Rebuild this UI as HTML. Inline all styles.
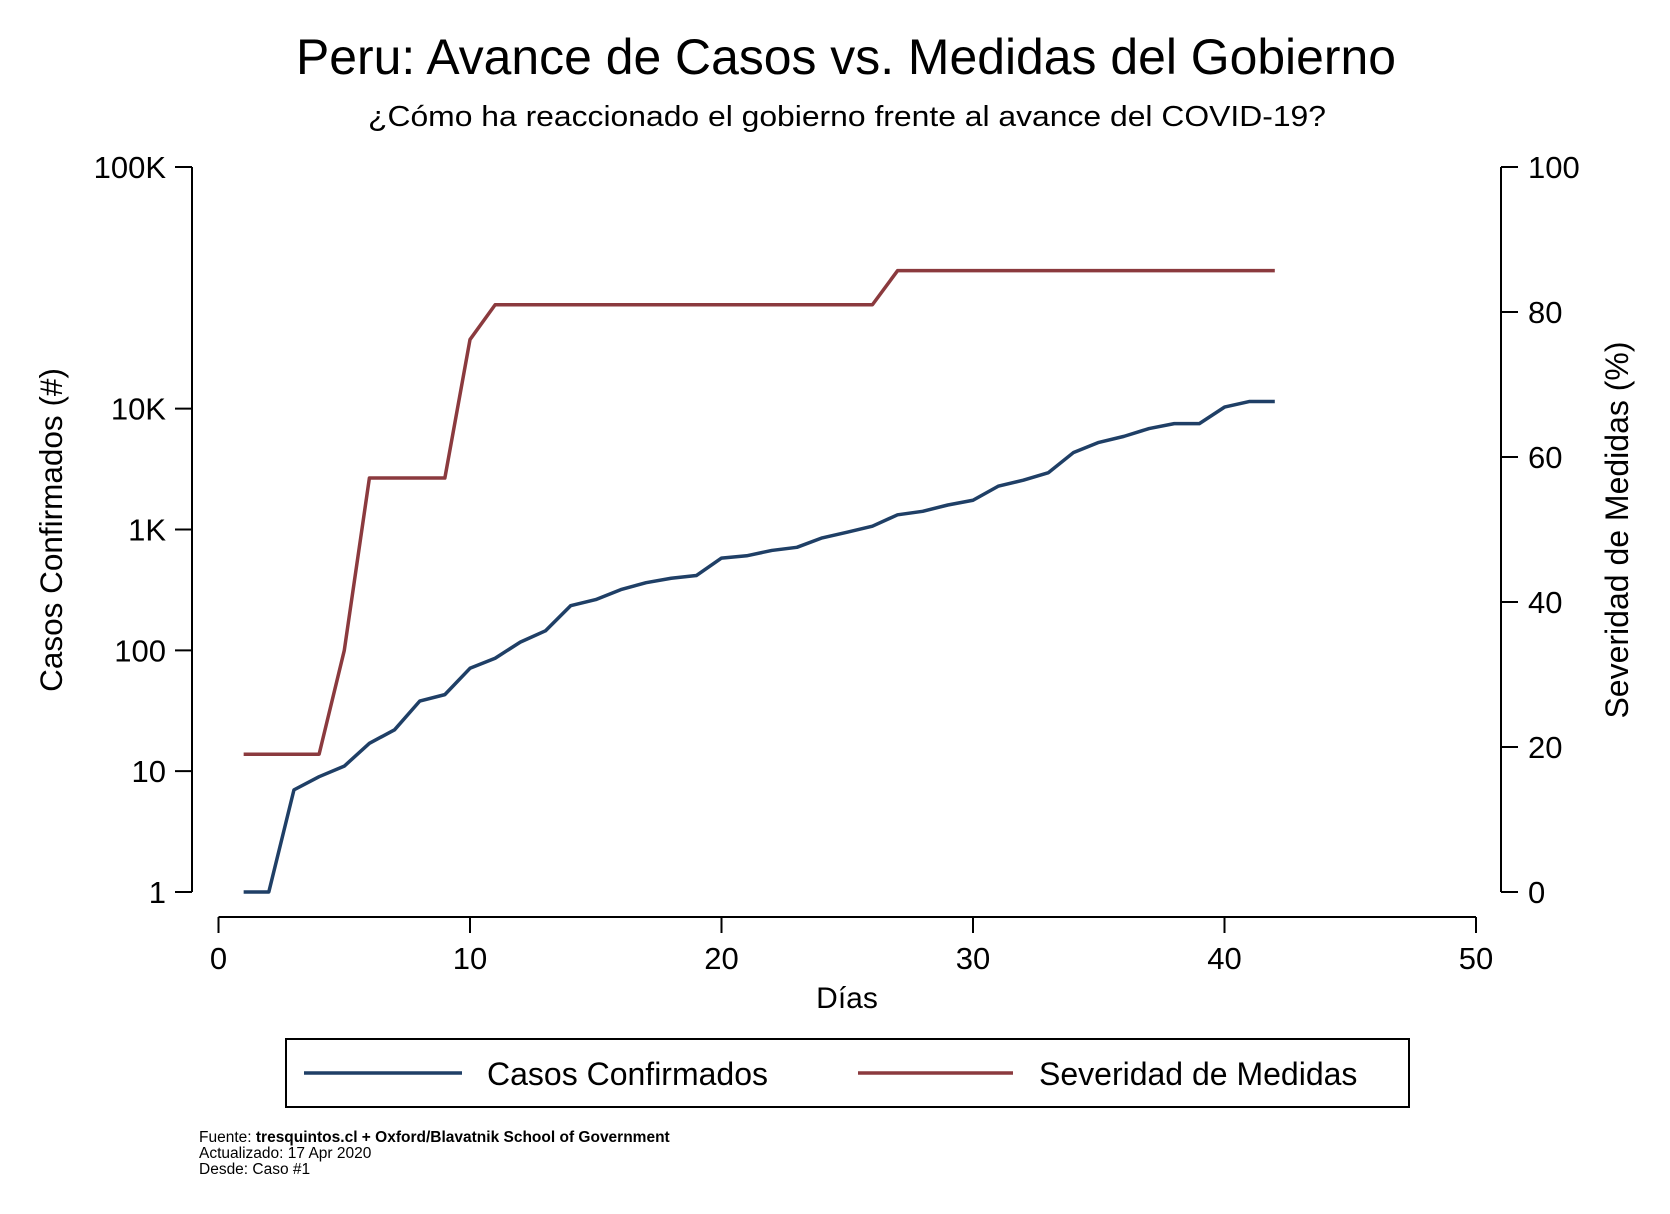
<!DOCTYPE html>
<html><head><meta charset="utf-8"><style>
html,body{margin:0;padding:0;background:#fff;}
svg{display:block;font-family:"Liberation Sans",Arial,sans-serif;}
</style></head><body>
<svg id="chart" width="1670" height="1214" viewBox="0 0 1670 1214" xmlns="http://www.w3.org/2000/svg">
<text x="846" y="74" font-size="50" text-anchor="middle" textLength="1100" lengthAdjust="spacingAndGlyphs">Peru: Avance de Casos vs. Medidas del Gobierno</text>
<text x="847" y="126" font-size="29" text-anchor="middle" textLength="958" lengthAdjust="spacingAndGlyphs">¿Cómo ha reaccionado el gobierno frente al avance del COVID-19?</text>
<g id="axes"></g>
<g id="series"></g>
<text x="847" y="1008" font-size="30" text-anchor="middle">Días</text>
<text transform="translate(62,530) rotate(-90)" font-size="31.5" text-anchor="middle">Casos Confirmados (#)</text>
<text transform="translate(1628,530) rotate(-90)" font-size="32" text-anchor="middle">Severidad de Medidas (%)</text>
<g>
<rect x="286" y="1039" width="1123" height="68" fill="none" stroke="#000" stroke-width="2"/>
<g>
<line x1="304" y1="1073" x2="462" y2="1073" stroke="#1f3f66" stroke-width="3.5"/>
<text x="487" y="1085" font-size="32">Casos Confirmados</text>
</g>
<g>
<line x1="858" y1="1073" x2="1013" y2="1073" stroke="#8b3a3e" stroke-width="3.5"/>
<text x="1039" y="1085" font-size="32">Severidad de Medidas</text>
</g>
</g>
<g font-size="15.5">
<text x="199" y="1142">Fuente: <tspan font-weight="bold">tresquintos.cl + Oxford/Blavatnik School of Government</tspan></text>
<text x="199" y="1158">Actualizado: 17 Apr 2020</text>
<text x="199" y="1174">Desde: Caso #1</text>
</g>
</svg>
<script>
const days = [1,2,3,4,5,6,7,8,9,10,11,12,13,14,15,16,17,18,19,20,21,22,23,24,25,26,27,28,29,30,31,32,33,34,35,36,37,38,39,40,41,42];
const cases = [1,1,7,9,11,17,22,38,43,71,86,117,145,234,263,318,363,395,416,580,606,671,712,852,950,1065,1323,1414,1595,1746,2281,2561,2954,4342,5256,5897,6848,7519,7519,10303,11475,11475];
const severity = [19,19,19,19,33.3,57.1,57.1,57.1,57.1,76.2,81,81,81,81,81,81,81,81,81,81,81,81,81,81,81,81,85.7,85.7,85.7,85.7,85.7,85.7,85.7,85.7,85.7,85.7,85.7,85.7,85.7,85.7,85.7,85.7];
const xTicks = [0,10,20,30,40,50];
const leftTickVals = [1,10,100,1000,10000,1000000];
const leftTickLabels = ["1","10","100","1K","10K","100K"];
const rightTicks = [0,20,40,60,80,100];

const NS = "http://www.w3.org/2000/svg";
const X0 = 218.5, X1 = 1476, YB = 892, YT = 167;
function xS(d){ return X0 + (d/50)*(X1-X0); }
function yL(v){ return YB - (Math.log10(v)/6)*(YB-YT); }
function yR(v){ return YB - (v/100)*(YB-YT); }
function mk(tag, attrs, parent){ const e=document.createElementNS(NS,tag); for(const k in attrs) e.setAttribute(k,attrs[k]); parent.appendChild(e); return e; }

const axes = document.getElementById('axes');
let l = mk('line',{x1:X0,y1:917,x2:X1,y2:917,stroke:'#000','stroke-width':2},axes);


xTicks.forEach(t=>{
  const tk = mk('line',{x1:xS(t),y1:917,x2:xS(t),y2:933,stroke:'#000','stroke-width':2},axes);
  
  
  const tx = mk('text',{x:xS(t),y:969,'font-size':31,'text-anchor':'middle'},axes);
  tx.textContent = t;
  
  
});
l = mk('line',{x1:192,y1:YT,x2:192,y2:YB,stroke:'#000','stroke-width':2},axes);


leftTickVals.forEach((v,i)=>{
  const tk = mk('line',{x1:175,y1:yL(v),x2:192,y2:yL(v),stroke:'#000','stroke-width':2},axes);
  
  
  const tx = mk('text',{x:166,y:yL(v)+11,'font-size':31,'text-anchor':'end'},axes);
  tx.textContent = leftTickLabels[i];
  
  
});
l = mk('line',{x1:1501,y1:YT,x2:1501,y2:YB,stroke:'#000','stroke-width':2},axes);


rightTicks.forEach(v=>{
  const tk = mk('line',{x1:1501,y1:yR(v),x2:1518,y2:yR(v),stroke:'#000','stroke-width':2},axes);
  
  
  const tx = mk('text',{x:1528,y:yR(v)+11,'font-size':31,'text-anchor':'start'},axes);
  tx.textContent = v;
  
  
});
const series = document.getElementById('series');
const pc = mk('polyline',{points:days.map((d,i)=>xS(d)+','+yL(cases[i])).join(' '),fill:'none',stroke:'#1f3f66','stroke-width':3.5,'stroke-linejoin':'round'},series);


const ps = mk('polyline',{points:days.map((d,i)=>xS(d)+','+yR(severity[i])).join(' '),fill:'none',stroke:'#8b3a3e','stroke-width':3.5,'stroke-linejoin':'round'},series);


</script>
</body></html>
